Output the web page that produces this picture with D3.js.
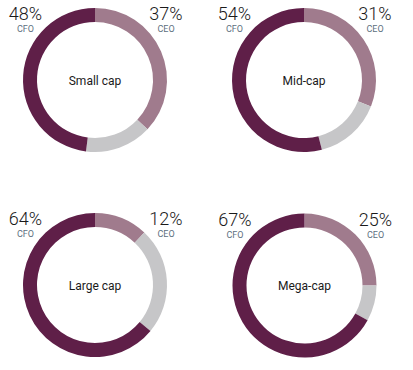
<!DOCTYPE html>
<html><head><meta charset="utf-8">
<script src="https://cdn.jsdelivr.net/npm/d3@7"></script>
<style>body{margin:0;background:#fff}svg{display:block}</style>
</head><body>
<svg id="c" width="413" height="370"></svg>
<script>
const categories = ["Small cap", "Mid-cap", "Large cap", "Mega-cap"];
const ceoValues = [37, 31, 12, 25];
const cfoValues = [48, 54, 64, 67];
const otherValues = [15, 15, 24, 8];
const seriesNames = ["CEO", "Other", "CFO"];
const colors = {CEO: "#a07b8d", Other: "#c6c6c8", CFO: "#5f1f48"};

const svg = d3.select("#c");
const centers = [[95, 80], [304, 80], [95, 285], [304.5, 285.5]];
const rOuter = 72, rInner = 58;
const pie = d3.pie().sort(null).value(d => d.v);
const arc = d3.arc().innerRadius(rInner).outerRadius(rOuter);

categories.forEach((cat, i) => {
  const [cx, cy] = centers[i];
  const data = [
    {k: "CEO", v: ceoValues[i]},
    {k: "Other", v: otherValues[i]},
    {k: "CFO", v: cfoValues[i]}
  ];
  const g = svg.append("g").attr("transform", `translate(${cx},${cy})`);
  g.selectAll("path").data(pie(data)).join("path")
    .attr("d", arc).attr("fill", d => colors[d.data.k]);
  g.append("text").text(cat).attr("y", 4.5).attr("text-anchor", "middle")
    .attr("font-family", "Roboto, sans-serif").attr("font-size", 12).attr("fill", "#1a1a1a");
  // CFO label (left)
  g.append("text").text(cfoValues[i] + "%").attr("x", -69.5).attr("y", -60)
    .attr("text-anchor", "middle").attr("font-family", "Roboto, sans-serif")
    .attr("font-size", 18).attr("font-weight", 300).attr("fill", "#1a1a1a");
  g.append("text").text("CFO").attr("x", -69.5).attr("y", -48)
    .attr("text-anchor", "middle").attr("font-family", "Roboto, sans-serif")
    .attr("font-size", 9).attr("fill", "#5d7080");
  // CEO label (right)
  g.append("text").text(ceoValues[i] + "%").attr("x", 71).attr("y", -60)
    .attr("text-anchor", "middle").attr("font-family", "Roboto, sans-serif")
    .attr("font-size", 18).attr("font-weight", 300).attr("fill", "#1a1a1a");
  g.append("text").text("CEO").attr("x", 71).attr("y", -48)
    .attr("text-anchor", "middle").attr("font-family", "Roboto, sans-serif")
    .attr("font-size", 9).attr("fill", "#5d7080");
});
</script>
</body></html>
